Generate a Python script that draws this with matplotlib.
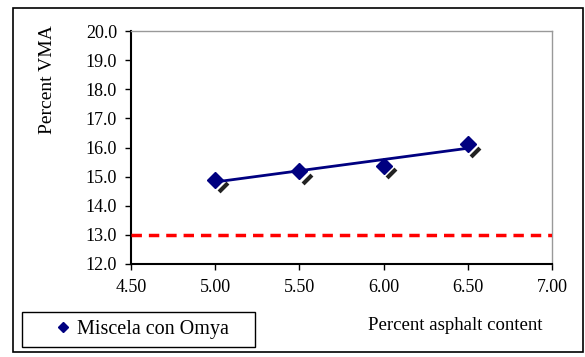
import numpy as np
import matplotlib
matplotlib.use('Agg')
import matplotlib.pyplot as plt
import matplotlib.transforms as mtransforms
from matplotlib.patches import Rectangle

# data
asphalt = [5.0, 5.5, 6.0, 6.5]
vma = [14.9, 15.18, 15.38, 16.12]
vma_min = 13.0
x_ticks = [4.5, 5.0, 5.5, 6.0, 6.5, 7.0]
y_ticks = [12, 13, 14, 15, 16, 17, 18, 19, 20]

plt.rcParams['font.family'] = ['Liberation Serif', 'DejaVu Serif']

fig = plt.figure(figsize=(5.85, 3.57), dpi=100)
W, H = 585, 357

# outer chart frame
fig.patches.append(Rectangle((13 / W, 5 / H), (583 - 13) / W, (352 - 8) / H,
                             transform=fig.transFigure, fill=False,
                             edgecolor='black', linewidth=1.2))
# legend frame
fig.patches.append(Rectangle((22 / W, 1 - 347 / H), 233 / W, 35 / H,
                             transform=fig.transFigure, fill=False,
                             edgecolor='black', linewidth=1))

ax = fig.add_axes([131 / W, 1 - 264 / H, (552 - 131) / W, (264 - 31) / H])

# shadow marks below each marker
shadow = ax.transData + mtransforms.ScaledTranslation(7.5 / 100, -7.5 / 100, fig.dpi_scale_trans)
ax.plot(asphalt, vma, linestyle='none', marker=(2, 0, -45), markersize=9,
        markeredgewidth=3, color='#222222', transform=shadow, zorder=2)

# linear trend line
coef = np.polyfit(asphalt, vma, 1)
xs = np.array([min(asphalt), max(asphalt)])
ax.plot(xs, np.polyval(coef, xs), color='#000080', linewidth=2, zorder=3)

ax.plot(asphalt, vma, linestyle='none', marker='D', markersize=8.5,
        color='#000080', zorder=4, label='Miscela con Omya')

ax.axhline(vma_min, color='red', linewidth=2.5, linestyle=(0, (3, 2)), zorder=3)

ax.set_xlim(4.5, 7.0)
ax.set_ylim(12, 20)
ax.set_xticks(x_ticks)
ax.set_yticks(y_ticks)
ax.set_xticklabels(['%.2f' % v for v in x_ticks])
ax.set_yticklabels(['%.1f' % v for v in y_ticks])
ax.tick_params(direction='out', length=4, labelsize=13, width=1, pad=6)
ax.tick_params(axis='x', pad=7)

for side in ['top', 'right']:
    ax.spines[side].set_color('#999999')
    ax.spines[side].set_linewidth(1)
for side in ['left', 'bottom']:
    ax.spines[side].set_linewidth(1.5)

fig.text(47 / W, 1 - 80 / H, 'Percent VMA', rotation=90, ha='center',
         va='center', fontsize=14)
fig.text(455 / W, 1 - 326 / H, 'Percent asphalt content', ha='center',
         va='center', fontsize=13.5)

leg = ax.legend(loc='center', bbox_to_anchor=(142 / W, 1 - 329 / H),
                bbox_transform=fig.transFigure, frameon=False,
                fontsize=14.5, markerscale=0.6,
                handlelength=0.8, handletextpad=0.3, borderpad=0.45,
                borderaxespad=0)

fig.savefig('out.png', dpi=100)
